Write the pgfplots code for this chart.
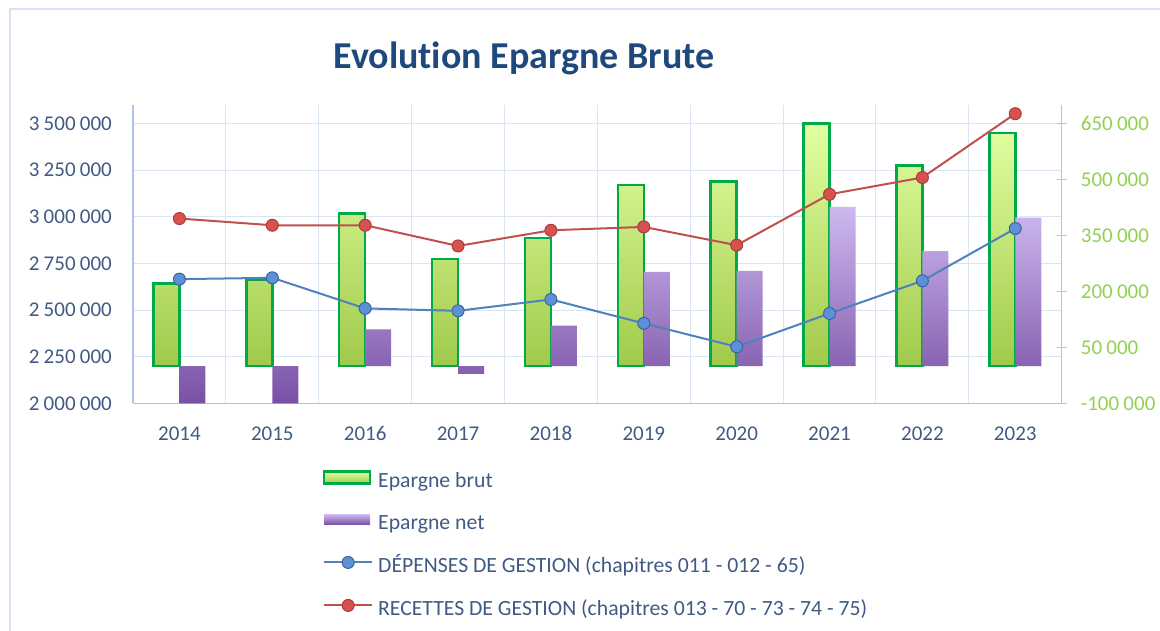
\documentclass[border=0pt]{standalone}
\usepackage{pgfplots}
\pgfplotsset{compat=1.18}
\usepackage{fontspec}
\setmainfont{Carlito}[Ligatures=NoCommon]

\definecolor{gridc}{RGB}{218,229,243}
\definecolor{axisc}{RGB}{170,195,230}
\definecolor{bordc}{RGB}{214,227,245}
\definecolor{tickc}{RGB}{64,90,132}
\definecolor{greenc}{RGB}{146,208,80}
\definecolor{titlec}{RGB}{31,73,125}
\definecolor{gtop}{RGB}{226,255,162}
\definecolor{gbot}{RGB}{160,202,75}
\definecolor{gbd}{RGB}{0,170,70}
\definecolor{ptop}{RGB}{206,184,238}
\definecolor{pbot}{RGB}{120,80,165}
\definecolor{redl}{RGB}{192,80,77}
\definecolor{redm}{RGB}{215,82,78}
\definecolor{redd}{RGB}{170,60,60}
\definecolor{bluel}{RGB}{79,129,189}
\definecolor{bluem}{RGB}{92,145,215}
\definecolor{blued}{RGB}{60,100,160}

\pgfplotsset{
  base/.style={width=928.7bp, height=298.3bp, scale only axis,
    at={(133bp,227.7bp)}, anchor=south west, xmin=-0.5, xmax=9.5,
    /pgf/number format/.cd, fixed, 1000 sep={\hspace{0.2em}}, assume math mode=true,
    /pgfplots/.cd},
  lineleg/.style={legend image code/.code={\draw[mark repeat=2, mark phase=2, ##1] plot coordinates {(0bp,5bp) (24bp,5bp) (48bp,5bp)};}},
}

\begin{document}
\begin{tikzpicture}
\useasboundingbox (0,0) rectangle (1160bp,631bp);
\draw[bordc, line width=2bp] (10bp,0) -- (10bp,621.7bp) -- (1160bp,621.7bp);
\node[anchor=base, font=\fontsize{38bp}{44bp}\selectfont\bfseries, text=titlec, inner sep=0pt] at (524bp,562.7bp) {Evolution Epargne Brute};

% grid + left axis
\begin{axis}[base, ymin=2000000, ymax=3600000,
  axis x line*=bottom, axis y line*=left,
  axis line style={-, draw=axisc, line width=1.2bp},
  xtick={0,...,9}, xticklabels={2014,2015,2016,2017,2018,2019,2020,2021,2022,2023},
  ytick={2000000,2250000,2500000,2750000,3000000,3250000,3500000},
  minor xtick={0.5,1.5,...,8.5}, xminorgrids, ymajorgrids, xmajorgrids=false,
  grid style={draw=gridc, line width=1bp}, minor grid style={draw=gridc, line width=1bp},
  major tick length=0pt, minor tick length=0pt,
  scaled y ticks=false,
  yticklabel style={inner sep=0pt, text=tickc, font=\fontsize{21bp}{25bp}\selectfont},
  xticklabel style={inner sep=0pt, text=tickc, font=\fontsize{21bp}{25bp}\selectfont},
  yticklabel shift=21bp, xticklabel shift=23bp,
]
\end{axis}

% bars on right axis
\begin{axis}[base, ymin=-100000, ymax=700000,
  axis y line*=right, axis x line=none,
  axis line style={-, draw=axisc, line width=1.2bp},
  xtick=\empty,
  ytick={-100000,50000,200000,350000,500000,650000},
  major tick length=10bp, tick align=center, tick style={draw=axisc, line width=1.2bp},
  scaled y ticks=false,
  yticklabel style={inner sep=0pt, text=greenc, font=\fontsize{21bp}{25bp}\selectfont},
  yticklabel shift=14bp,
]
\addplot[ybar, bar width=26bp, bar shift=-13bp, draw=gbd, line width=2.5bp, top color=gtop, bottom color=gbot]
  coordinates {(0,221000) (1,230000) (2,409000) (3,287000) (4,343000) (5,486000) (6,495000) (7,650000) (8,538000) (9,625000)};
\addplot[ybar, bar width=26bp, bar shift=13bp, draw=none, top color=ptop, bottom color=pbot]
  coordinates {(0,-100000) (1,-100000) (2,98000) (3,-21000) (4,108000) (5,252600) (6,255000) (7,426700) (8,308000) (9,398000)};
\end{axis}

% lines on left axis + legend
\begin{axis}[base, ymin=2000000, ymax=3600000, hide axis,
  legend cell align=left,
  legend style={at={(0.2043,-0.2236)}, anchor=north west, draw=none, fill=none,
    font=\fontsize{21.7bp}{25bp}\selectfont, text=tickc, inner sep=0pt,
    row sep=23bp, column sep=5bp,
    nodes={inner sep=0pt, text height=14bp, text depth=4bp}},
]
\addlegendimage{legend image code/.code={\draw[draw=gbd, line width=2.5bp, top color=gtop, bottom color=gbot] (0bp,-1bp) rectangle (46bp,11bp);}}
\addlegendentry{Epargne brut}
\addlegendimage{legend image code/.code={\path[draw=none, top color=ptop, bottom color=pbot] (0bp,0bp) rectangle (46bp,10bp);}}
\addlegendentry{Epargne net}
\addplot[draw=bluel, line width=2bp, mark=*, mark size=6bp, mark options={fill=bluem, draw=blued, line width=1bp}, lineleg]
  coordinates {(0,2666000) (1,2673000) (2,2509000) (3,2496000) (4,2557000) (5,2428600) (6,2303000) (7,2482000) (8,2657000) (9,2937500)};
\addlegendentry{DÉPENSES DE GESTION (chapitres 011 - 012 - 65)}
\addplot[draw=redl, line width=2bp, mark=*, mark size=6bp, mark options={fill=redm, draw=redd, line width=1bp}, lineleg]
  coordinates {(0,2991000) (1,2955000) (2,2955000) (3,2844000) (4,2928000) (5,2946000) (6,2848000) (7,3121000) (8,3211000) (9,3553500)};
\addlegendentry{RECETTES DE GESTION (chapitres 013 - 70 - 73 - 74 - 75)}
\end{axis}
\end{tikzpicture}
\end{document}
